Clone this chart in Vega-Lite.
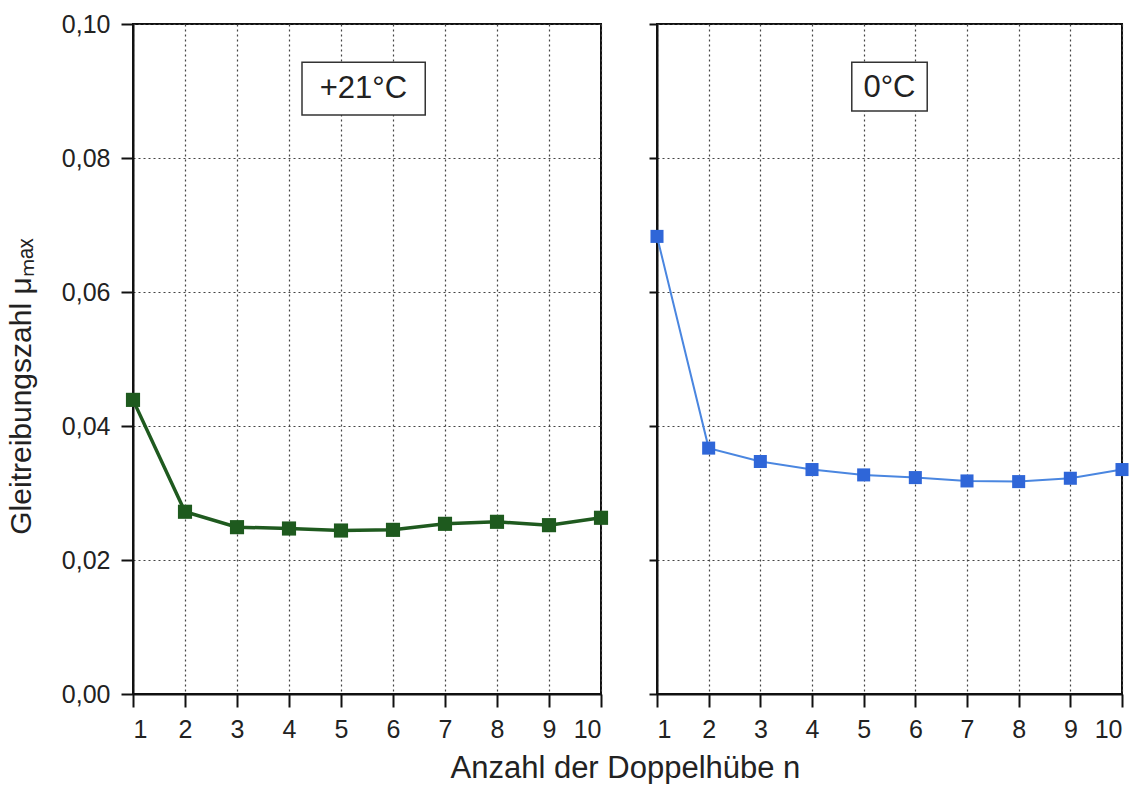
{
  "$schema": "https://vega.github.io/schema/vega-lite/v6.json",
  "background": "white",
  "padding": {"left": 5, "top": 11, "right": 5, "bottom": 0},
  "autosize": {"type": "pad"},
  "datasets": {
    "warm": [
      {"n": 1, "mu": 0.0439}, {"n": 2, "mu": 0.0272}, {"n": 3, "mu": 0.0249}, {"n": 4, "mu": 0.0247}, {"n": 5, "mu": 0.0244},
      {"n": 6, "mu": 0.0245}, {"n": 7, "mu": 0.0254}, {"n": 8, "mu": 0.0257}, {"n": 9, "mu": 0.0252}, {"n": 10, "mu": 0.0263}
    ],
    "cold": [
      {"n": 1, "mu": 0.0683}, {"n": 2, "mu": 0.0367}, {"n": 3, "mu": 0.0347}, {"n": 4, "mu": 0.0335}, {"n": 5, "mu": 0.0327},
      {"n": 6, "mu": 0.0323}, {"n": 7, "mu": 0.0318}, {"n": 8, "mu": 0.0317}, {"n": 9, "mu": 0.0322}, {"n": 10, "mu": 0.0335}
    ]
  },
  "title": {"text": "Anzahl der Doppelhübe n", "orient": "bottom", "anchor": "middle", "fontSize": 31, "font": "Liberation Sans", "fontWeight": "normal", "color": "#222", "offset": 11, "dx": 58},
  "config": {
    "font": "Liberation Sans",
    "view": {"stroke": "#111", "strokeWidth": 2},
    "axis": {
      "domainColor": "#111", "domainWidth": 2, "tickColor": "#111", "tickWidth": 2, "tickSize": 13,
      "labelFontSize": 25, "labelColor": "#222", "labelPadding": 10,
      "grid": true, "gridDash": [2, 3], "gridColor": "#444", "gridWidth": 1.2,
      "titleFontSize": 30, "titleFontWeight": "normal", "titleColor": "#222"
    }
  },
  "bounds": "flush",
  "spacing": 56,
  "hconcat": [
    {
      "width": 468, "height": 670,
      "layer": [
        {
          "data": {"name": "warm"},
          "mark": {"type": "line", "color": "#1f5a1f", "strokeWidth": 3.5},
          "encoding": {
            "x": {"field": "n", "type": "quantitative", "scale": {"domain": [1, 10], "nice": false, "zero": false},
                  "axis": {"values": [1,2,3,4,5,6,7,8,9,10], "title": null}},
            "y": {"field": "mu", "type": "quantitative", "scale": {"domain": [0, 0.1], "nice": false},
                  "axis": {"values": [0, 0.02, 0.04, 0.06, 0.08, 0.1], "labelExpr": "replace(format(datum.value, '.2f'), '.', ',')",
                           "title": "Gleitreibungszahl μₘₐₓ", "titlePadding": 25, "titleY": 362, "labelPadding": 11, "tickSize": 12}}
          }
        },
        {
          "data": {"name": "warm"},
          "mark": {"type": "point", "shape": "square", "filled": true, "size": 200, "color": "#1e5a1e", "opacity": 1},
          "encoding": {
            "x": {"field": "n", "type": "quantitative"},
            "y": {"field": "mu", "type": "quantitative"}
          }
        },
        {
          "data": {"values": [{"x1": 4.25, "x2": 6.62, "y1": 0.0943, "y2": 0.0864, "tx": 5.43, "ty": 0.0903, "label": "+21°C"}]},
          "layer": [
            {"mark": {"type": "rect", "fill": "white", "stroke": "#333", "strokeWidth": 1.5},
             "encoding": {"x": {"field": "x1", "type": "quantitative"}, "x2": {"field": "x2"}, "y": {"field": "y1", "type": "quantitative"}, "y2": {"field": "y2"}}},
            {"mark": {"type": "text", "fontSize": 31, "color": "#222", "baseline": "middle", "align": "center"},
             "encoding": {"x": {"field": "tx", "type": "quantitative"}, "y": {"field": "ty", "type": "quantitative"}, "text": {"field": "label"}}}
          ]
        }
      ]
    },
    {
      "width": 465, "height": 670,
      "layer": [
        {
          "data": {"name": "cold"},
          "mark": {"type": "line", "color": "#4a86e0", "strokeWidth": 2},
          "encoding": {
            "x": {"field": "n", "type": "quantitative", "scale": {"domain": [1, 10], "nice": false, "zero": false},
                  "axis": {"values": [1,2,3,4,5,6,7,8,9,10], "title": null}},
            "y": {"field": "mu", "type": "quantitative", "scale": {"domain": [0, 0.1], "nice": false},
                  "axis": {"values": [0, 0.02, 0.04, 0.06, 0.08, 0.1], "labels": false, "title": null, "tickSize": 8}}
          }
        },
        {
          "data": {"name": "cold"},
          "mark": {"type": "point", "shape": "square", "filled": true, "size": 170, "color": "#2f66d8", "opacity": 1},
          "encoding": {
            "x": {"field": "n", "type": "quantitative"},
            "y": {"field": "mu", "type": "quantitative"}
          }
        },
        {
          "data": {"values": [{"x1": 4.77, "x2": 6.23, "y1": 0.0943, "y2": 0.087, "tx": 5.5, "ty": 0.0905, "label": "0°C"}]},
          "layer": [
            {"mark": {"type": "rect", "fill": "white", "stroke": "#333", "strokeWidth": 1.5},
             "encoding": {"x": {"field": "x1", "type": "quantitative"}, "x2": {"field": "x2"}, "y": {"field": "y1", "type": "quantitative"}, "y2": {"field": "y2"}}},
            {"mark": {"type": "text", "fontSize": 31, "color": "#222", "baseline": "middle", "align": "center"},
             "encoding": {"x": {"field": "tx", "type": "quantitative"}, "y": {"field": "ty", "type": "quantitative"}, "text": {"field": "label"}}}
          ]
        }
      ]
    }
  ]
}
